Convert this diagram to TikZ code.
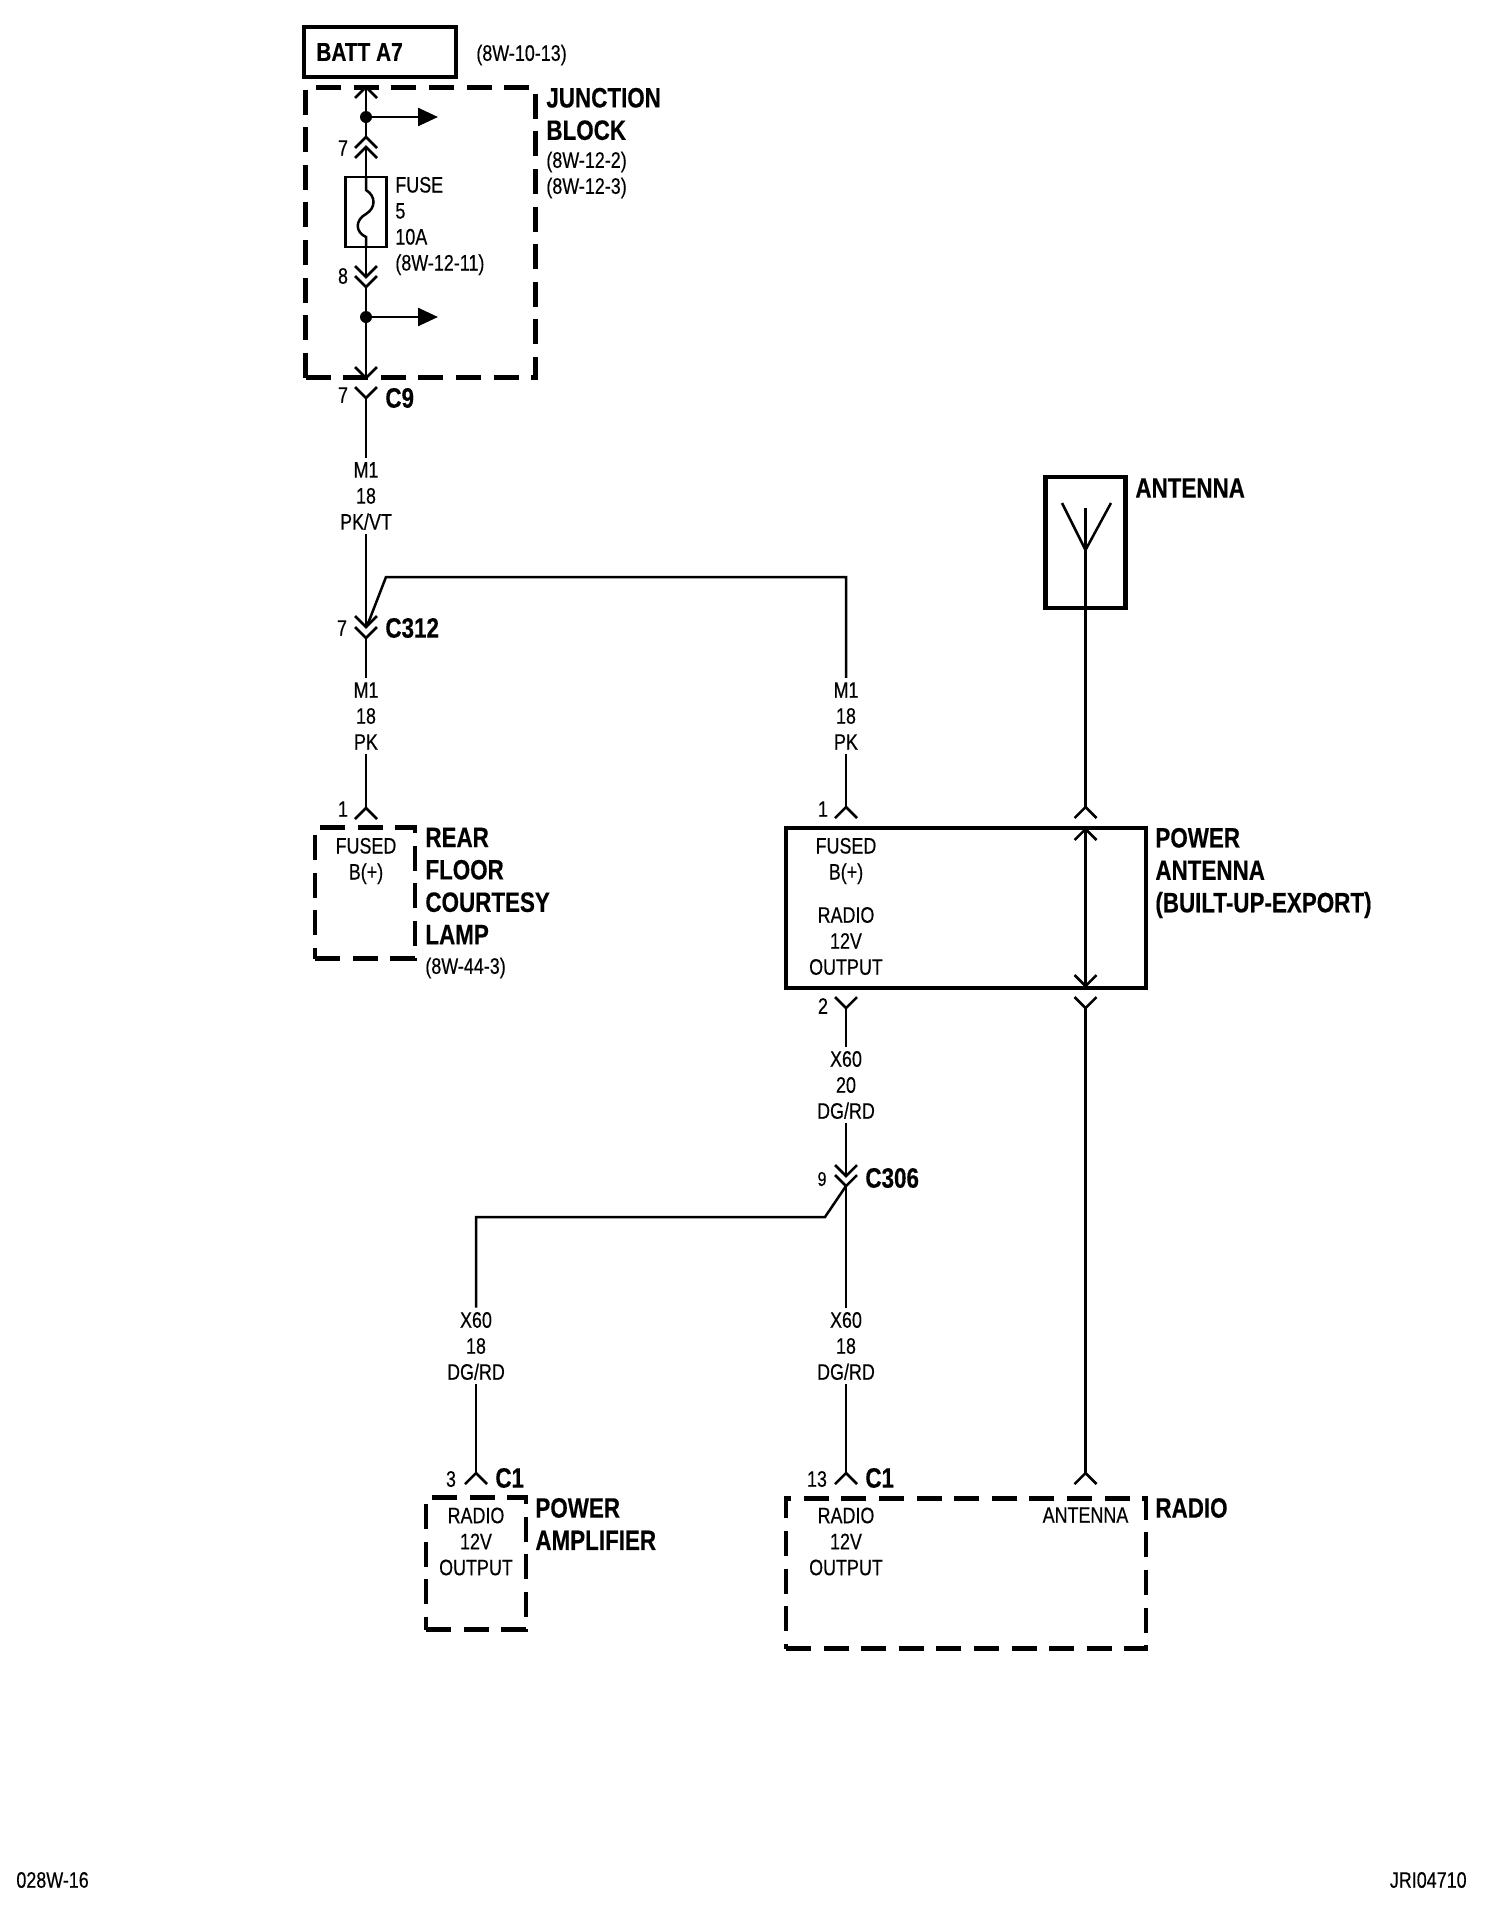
\documentclass[tikz,border=0pt]{standalone}
\usepackage{fontspec}
\setmainfont[FakeStretch=0.8,FakeBold=0.35]{Liberation Sans}
\usetikzlibrary{arrows.meta}
\tikzset{
    wire/.style={line width=1.25pt, line cap=butt},
    lbl/.style={font=\fontsize{11.2}{13}\selectfont, inner sep=0pt, align=center},
    wirelbl/.style={lbl, inner sep=2pt},
    reflbl/.style={lbl, anchor=west, align=left},
    namelbl/.style={font=\fontsize{14}{16.2}\selectfont\bfseries, inner sep=0pt, anchor=west, align=left},
    solidbox/.style={draw, line width=2.2pt, inner sep=0pt},
    dashbox/.style={solidbox, dash pattern=on 12.5pt off 6.3pt},
    fusebox/.style={draw, line width=1.1pt, inner sep=0pt},
    joint/.style={circle, fill, inner sep=0pt, minimum size=6pt},
    outarrow/.style={wire, -{Triangle[length=10pt,width=9pt]}}
}
\newcommand{\pinup}[1]{\draw[wire] ([shift={(-11,11)}]#1) -- (#1) -- ([shift={(11,11)}]#1);}
\newcommand{\pindown}[1]{\draw[wire] ([shift={(-11,-11)}]#1) -- (#1) -- ([shift={(11,-11)}]#1);}
\begin{document}
\begin{tikzpicture}[x=0.5pt, y=-0.5pt]
    \useasboundingbox (0,0) rectangle (1504,1928);
    % top boxes
    \node[solidbox, minimum width=76pt, minimum height=25pt] (batt) at (380,52) {};
    \node[namelbl, font=\fontsize{13}{15}\selectfont\bfseries] (battname) at (316,52) {BATT A7};
    \node[reflbl] (battref) at (476,55) {(8W-10-13)};
    \node[dashbox, minimum width=115pt, minimum height=145pt] (jblock) at (420.5,232.5) {};
    \node[namelbl] (jbname) at (546,114) {JUNCTION\\BLOCK};
    \node[reflbl] (jbref) at (546,175) {(8W-12-2)\\(8W-12-3)};
    % fuse
    \node[fusebox, minimum width=20.5pt, minimum height=35pt] (fuse) at (366,212) {};
    \node[reflbl] (fusename) at (395,226) {FUSE\\5\\10A\\(8W-12-11)};
    \coordinate (jbtop) at (366,87);
    \node[joint] (dotA) at (366,117) {};
    \coordinate (pinA) at (366,137);
    \coordinate (pinB) at (366,147);
    \coordinate (pinC) at (366,277);
    \coordinate (pinD) at (366,287);
    \node[joint] (dotB) at (366,317) {};
    \coordinate (jbbot) at (366,378);
    \coordinate (c9pin) at (366,398);
    \coordinate (outA) at (438,117);
    \coordinate (outB) at (438,317);
    \node[lbl] (seven1) at (343,148) {7};
    \node[lbl] (eight) at (343,276) {8};
    \node[lbl] (seven2) at (343,395) {7};
    \node[namelbl] (c9name) at (385,398) {C9};
    \draw[wire] (jbtop) -- (dotA) -- (pinA);
    \draw[wire] (pinB) -- (fuse.north);
    \draw[wire] (fuse.north) -- (366,190) .. controls (376,196) and (376,208) .. (366,214) .. controls (355,220) and (355,232) .. (366,237) -- (fuse.south);
    \draw[wire] (fuse.south) -- (pinC);
    \draw[wire] (pinD) -- (dotB) -- (jbbot);
    \draw[outarrow] (dotA) -- (outA);
    \draw[outarrow] (dotB) -- (outB);
    \pinup{jbtop}
    \pinup{pinA}
    \pinup{pinB}
    \pindown{pinC}
    \pindown{pinD}
    \pindown{jbbot}
    \pindown{c9pin}
    % rear lamp side
    \node[wirelbl] (wireA) at (366,496) {M1\\18\\PK/VT};
    \coordinate (c312up) at (366,627);
    \coordinate (c312lo) at (366,638);
    \node[lbl] (seven3) at (342,628) {7};
    \node[namelbl] (c312name) at (385,628) {C312};
    \node[wirelbl] (wireB) at (366,716) {M1\\18\\PK};
    \coordinate (lamppin) at (366,808);
    \node[lbl] (one1) at (343,809) {1};
    \node[dashbox, minimum width=50pt, minimum height=65.5pt] (lamp) at (365,893) {};
    \node[lbl] (lampin) at (366,861) {FUSED\\B(+)};
    \node[namelbl] (lampname) at (425,886) {REAR\\FLOOR\\COURTESY\\LAMP};
    \node[reflbl] (lampref) at (425,968) {(8W-44-3)};
    \draw[wire] (c9pin) -- (wireA.north);
    \draw[wire] (wireA.south) -- (c312up);
    \draw[wire] (c312lo) -- (wireB.north);
    \draw[wire] (wireB.south) -- (lamppin);
    \pindown{c312up}
    \pindown{c312lo}
    \pinup{lamppin}
    % power antenna
    \coordinate (bendA) at (386,577);
    \coordinate (bendB) at (846,577);
    \node[wirelbl] (wireC) at (846,716) {M1\\18\\PK};
    \coordinate (papin) at (846,807);
    \node[lbl] (one2) at (823,809) {1};
    \node[solidbox, minimum width=180pt, minimum height=80pt] (pa) at (966,908) {};
    \node[lbl] (pafused) at (846,861) {FUSED\\B(+)};
    \node[lbl] (paradio) at (846,941) {RADIO\\12V\\OUTPUT};
    \node[namelbl] (paname) at (1155,873) {POWER\\ANTENNA\\(BUILT-UP-EXPORT)};
    \draw[wire] (c312up) -- ++(3,-6) -- (bendA) -- (bendB) -- (wireC.north);
    \draw[wire] (wireC.south) -- (papin);
    \pinup{papin}
    % antenna
    \node[solidbox, minimum width=40pt, minimum height=65.5pt] (ant) at (1085.5,542.5) {};
    \node[namelbl] (antname) at (1135,488) {ANTENNA};
    \coordinate (anttop) at (1085.5,508);
    \coordinate (antjoin) at (1085.5,550);
    \coordinate (armL) at (1062,503);
    \coordinate (armR) at (1111,503);
    \coordinate (antpin) at (1085.5,807);
    \coordinate (inpin) at (1085.5,829);
    \coordinate (outpin) at (1085.5,986);
    \coordinate (lopin) at (1085.5,1008);
    \coordinate (radpinB) at (1085.5,1473);
    \draw[wire] (armL) -- (antjoin) -- (armR);
    \draw[wire] (anttop) -- (antpin);
    \draw[wire] (inpin) -- (outpin);
    \draw[wire] (lopin) -- (radpinB);
    \pinup{antpin}
    \pinup{inpin}
    \pindown{outpin}
    \pindown{lopin}
    \pinup{radpinB}
    % lower wires
    \coordinate (pa2pin) at (846,1008);
    \node[lbl] (two) at (823,1006) {2};
    \node[wirelbl] (wireD) at (846,1085) {X60\\20\\DG/RD};
    \coordinate (c306up) at (846,1176);
    \coordinate (c306lo) at (846,1186);
    \node[lbl, font=\fontsize{10}{12}\selectfont] (nine) at (822,1179) {9};
    \node[namelbl] (c306name) at (865,1178) {C306};
    \coordinate (bendC) at (825,1217);
    \coordinate (bendD) at (476,1217);
    \node[wirelbl] (wireE) at (476,1346) {X60\\18\\DG/RD};
    \node[wirelbl] (wireF) at (846,1346) {X60\\18\\DG/RD};
    \coordinate (amppin) at (476,1473);
    \coordinate (radpinA) at (846,1473);
    \draw[wire] (pa2pin) -- (wireD.north);
    \draw[wire] (wireD.south) -- (c306up);
    \draw[wire] (c306lo) -- (wireF.north);
    \draw[wire] (wireF.south) -- (radpinA);
    \draw[wire] (c306lo) -- (bendC) -- (bendD) -- (wireE.north);
    \draw[wire] (wireE.south) -- (amppin);
    \pindown{pa2pin}
    \pindown{c306up}
    \pindown{c306lo}
    \pinup{amppin}
    \pinup{radpinA}
    % amplifier and radio
    \node[lbl] (three) at (451,1479) {3};
    \node[namelbl] (c1a) at (495,1478) {C1};
    \node[dashbox, minimum width=50pt, minimum height=66pt] (amp) at (476,1563.5) {};
    \node[lbl] (ampin) at (476,1541.5) {RADIO\\12V\\OUTPUT};
    \node[namelbl] (ampname) at (535,1524) {POWER\\AMPLIFIER};
    \node[lbl] (thirteen) at (817,1479) {13};
    \node[namelbl] (c1b) at (865,1478) {C1};
    \node[dashbox, minimum width=180pt, minimum height=75pt] (radio) at (966,1573.5) {};
    \node[lbl] (radin) at (846,1541.5) {RADIO\\12V\\OUTPUT};
    \node[lbl] (radant) at (1085.5,1515) {ANTENNA};
    \node[namelbl] (radname) at (1155,1508) {RADIO};
    % page marks
    \node[reflbl] (pagel) at (16,1880) {028W-16};
    \node[lbl, anchor=east] (pager) at (1467,1880) {JRI04710};
\end{tikzpicture}
\end{document}
